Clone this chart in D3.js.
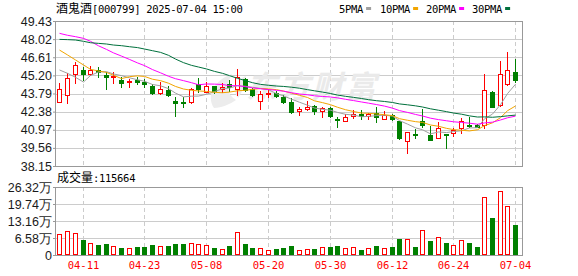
<!DOCTYPE html>
<html><head><meta charset="utf-8">
<script src="https://cdn.jsdelivr.net/npm/d3@7"></script>
<style>html,body{margin:0;padding:0;background:#fff;}svg{display:block}</style>
</head><body><svg id="c" width="578" height="276"></svg>
<script>
const dates = ["04-08","04-09","04-10","04-11","04-14","04-15","04-16","04-17","04-18","04-21","04-22","04-23","04-24","04-25","04-28","04-29","04-30","05-06","05-07","05-08","05-09","05-12","05-13","05-14","05-15","05-16","05-19","05-20","05-21","05-22","05-23","05-26","05-27","05-28","05-29","05-30","06-03","06-04","06-05","06-06","06-09","06-10","06-11","06-12","06-13","06-16","06-17","06-18","06-19","06-20","06-23","06-24","06-25","06-26","06-27","06-30","07-01","07-02","07-03","07-04"];
const open  = [43.10,43.65,45.28,45.62,45.28,45.62,45.23,45.05,44.87,44.66,44.81,44.69,44.37,43.86,44.06,43.23,43.14,43.16,44.50,43.93,44.37,44.14,44.50,44.11,44.89,44.14,43.24,43.75,43.80,43.49,43.16,42.46,42.56,42.82,42.46,42.64,41.78,41.68,42.07,42.17,42.07,42.25,41.83,42.12,41.68,40.12,40.64,41.63,40.56,40.30,40.66,40.74,41.08,41.37,41.31,41.34,43.91,42.87,44.50,45.46];
const high  = [44.63,45.36,46.27,45.88,45.93,45.83,45.49,45.44,45.05,44.92,45.10,44.89,44.53,44.69,44.37,43.49,43.49,44.19,44.97,44.66,44.37,44.58,44.84,45.70,45.02,44.24,43.96,44.11,44.01,43.67,43.42,42.72,43.21,42.90,42.77,42.72,41.99,42.17,42.51,42.51,42.30,42.72,42.46,42.17,41.68,40.82,41.01,42.56,41.26,41.55,40.66,41.08,41.86,41.99,41.42,45.31,43.96,46.32,47.04,46.45];
const low   = [43.10,43.08,44.58,44.84,45.20,45.05,44.17,44.63,44.32,44.32,44.53,44.32,43.75,43.75,43.57,42.07,42.72,43.08,43.93,43.90,43.85,43.93,44.01,43.67,44.01,43.60,42.61,43.49,43.49,43.03,42.30,42.12,42.51,42.20,41.99,41.99,41.16,41.65,41.91,41.81,41.78,41.60,41.78,41.73,40.28,39.19,40.36,41.21,40.20,40.30,39.58,40.51,40.74,41.21,41.16,41.08,42.72,42.82,44.45,44.71];
const close = [44.11,44.97,45.98,45.28,45.62,45.46,45.10,45.12,44.63,44.76,44.71,44.50,43.86,44.11,43.65,43.05,43.02,44.11,44.16,44.35,43.98,44.33,44.30,45.10,44.06,43.65,43.75,43.86,43.60,43.16,42.38,42.56,42.72,42.46,42.69,42.04,41.70,41.94,42.17,42.07,42.17,41.99,42.12,41.78,40.33,40.82,40.54,41.37,40.20,41.08,40.58,40.93,41.68,41.26,41.21,44.04,42.77,45.31,45.59,44.84];
const volume = [81300,92900,85200,58100,45200,38700,42600,34800,27100,27100,32300,32300,38700,34800,36100,42600,42600,45200,42600,38700,27100,21900,36100,87700,41300,27100,25800,18100,23200,27100,34800,18100,21900,23200,29700,31000,34800,25800,29700,19400,25800,34800,25800,31000,61900,60600,31000,95500,54200,69700,46400,37400,56800,46400,31000,223200,143200,246400,188400,115664];
const ma5  = [45.62,45.36,45.05,44.68,45.19,45.46,45.49,45.31,45.18,45.01,44.86,44.74,44.49,44.39,44.17,43.82,43.53,43.58,43.59,43.73,43.93,44.17,44.21,44.40,44.35,44.28,44.18,44.08,43.78,43.60,43.35,43.11,42.88,42.66,42.56,42.49,42.32,42.17,42.11,41.98,42.01,42.07,42.10,42.03,41.68,41.41,41.12,40.97,40.65,40.80,40.75,40.83,40.89,41.11,41.13,41.82,42.19,42.92,43.78,44.51];
const ma10 = [47.17,46.79,46.40,46.01,45.67,45.54,45.43,45.21,44.95,45.10,45.16,45.12,44.90,44.79,44.59,44.34,44.14,44.04,43.99,43.95,43.88,43.85,43.90,44.00,44.04,44.11,44.18,44.15,44.09,43.98,43.82,43.65,43.48,43.22,43.08,42.92,42.72,42.53,42.39,42.27,42.25,42.20,42.14,42.07,41.83,41.71,41.60,41.54,41.34,41.24,41.08,40.98,40.93,40.88,40.97,41.29,41.51,41.91,42.45,42.82];
const ma20 = [48.47,48.32,48.21,48.08,47.85,47.50,47.22,46.95,46.70,46.44,46.17,45.96,45.65,45.40,45.13,44.94,44.79,44.63,44.47,44.53,44.52,44.49,44.40,44.40,44.32,44.23,44.16,44.10,44.04,43.97,43.85,43.75,43.69,43.61,43.56,43.52,43.45,43.34,43.24,43.13,43.04,42.93,42.81,42.65,42.46,42.32,42.16,42.04,41.87,41.76,41.67,41.59,41.54,41.48,41.40,41.50,41.56,41.73,41.90,42.03];
const ma30 = [48.00,47.98,47.95,47.85,47.74,47.69,47.64,47.56,47.51,47.43,47.36,47.25,47.12,46.99,46.76,46.47,46.19,45.98,45.85,45.70,45.51,45.36,45.18,44.97,44.79,44.63,44.50,44.43,44.37,44.34,44.28,44.20,44.09,44.00,43.90,43.79,43.67,43.57,43.49,43.40,43.31,43.23,43.17,43.09,42.98,42.91,42.83,42.74,42.60,42.49,42.38,42.27,42.18,42.05,41.96,41.97,41.94,41.99,42.05,42.11];
const priceTicks = [38.15,39.56,40.97,42.38,43.79,45.20,46.61,48.02,49.43];
const volTicks = [0,65800,131600,197400,263200];
const volTickLabels = ["0","6.58万","13.16万","19.74万","26.32万"];
const dateTicks = ["04-11","04-23","05-08","05-20","05-30","06-12","06-24","07-04"];
const maNames = ["5PMA","10PMA","20PMA","30PMA"];
const stockName = "酒鬼酒";
const stockInfo = "[000799] 2025-07-04 15:00";
const volLabel = "成交量";
const volLast = "115664";

const RED = "#ff0000", GREEN = "#008000";
const maColors = ["#a0a0a0","#f2a500","#ff00ff","#00703c"];
const L = 56, R = 522, PT = 21, PB = 166, VT = 187, VB = 255;

const svg = d3.select("#c");
const x = d3.scaleBand().domain(dates).range([L, L + dates.length * 7.68]).paddingInner(0.35).paddingOuter(0);
const step = x.step();
const cx = d => Math.floor(x(d) + step / 2);
const y = d3.scaleLinear().domain([38.15, 49.43]).range([PB, PT]);
const yv = d3.scaleLinear().domain([0, 263200]).range([VB, VT]);
const gridC = "#cccccc", frameC = "#999999";
const labelFont = "'Liberation Sans', Arial, sans-serif";
const monoFont = "'DejaVu Sans Mono', monospace";
const cjkFont = "'Noto Sans CJK SC', sans-serif";

// horizontal grid
svg.append("g").selectAll("line").data(priceTicks.slice(1, -1)).join("line")
  .attr("x1", L).attr("x2", R).attr("y1", d => Math.round(y(d)) + 0.5).attr("y2", d => Math.round(y(d)) + 0.5)
  .attr("stroke", gridC).attr("stroke-width", 1);
svg.append("g").selectAll("line").data(volTicks.slice(1, -1)).join("line")
  .attr("x1", L).attr("x2", R).attr("y1", d => Math.round(yv(d)) + 0.5).attr("y2", d => Math.round(yv(d)) + 0.5)
  .attr("stroke", gridC).attr("stroke-width", 1);
// vertical dashed grid
[[PT, PB], [VT, VB]].forEach(([a, b]) => {
  svg.append("g").selectAll("line").data(dateTicks).join("line")
    .attr("x1", d => cx(d) + 0.5).attr("x2", d => cx(d) + 0.5).attr("y1", a).attr("y2", b)
    .attr("stroke", gridC).attr("stroke-dasharray", "4,3");
});

// watermark
const wm = svg.append("g").attr("opacity", 1);
wm.append("path").attr("d", "M214,108 C206,96 214,80 232,74 C226,84 226,94 236,100 C230,104 222,108 214,108 Z M238,98 C232,90 236,80 246,76 C244,84 244,90 238,98 Z").attr("fill", "#ececec");
wm.append("text").attr("x", 246).attr("y", 98).text("东方财富")
  .attr("font-family", cjkFont).attr("font-size", 31).attr("font-weight", "bold").attr("font-style", "italic")
  .attr("fill", "#eaeaea").attr("letter-spacing", 2);

// frames
svg.append("rect").attr("x", L - 0.5).attr("y", PT + 0.5).attr("width", R - L + 1).attr("height", PB - PT)
  .attr("fill", "none").attr("stroke", frameC);
svg.append("rect").attr("x", L - 0.5).attr("y", VT + 0.5).attr("width", R - L + 1).attr("height", VB - VT)
  .attr("fill", "none").attr("stroke", frameC);

// candles
const cg = svg.append("g");
dates.forEach((d, i) => {
  const o = open[i], c = close[i], up = c >= o;
  const col = up ? RED : GREEN;
  const k = cx(d);
  const yh = Math.round(y(high[i])), yl = Math.round(y(low[i]));
  const yt = Math.round(y(Math.max(o, c))), yb = Math.round(y(Math.min(o, c)));
  cg.append("line").attr("x1", k + 0.5).attr("x2", k + 0.5).attr("y1", yh).attr("y2", yl + 1).attr("stroke", col);
  if (up) {
    if (yb - yt < 1) {
      cg.append("rect").attr("x", k - 2).attr("y", yt).attr("width", 5).attr("height", 1).attr("fill", col);
    } else {
      cg.append("rect").attr("x", k - 1.5).attr("y", yt + 0.5).attr("width", 4).attr("height", yb - yt)
        .attr("fill", "#fff").attr("stroke", col);
    }
  } else {
    cg.append("rect").attr("x", k - 2).attr("y", yt).attr("width", 5).attr("height", Math.max(1, yb - yt + 1)).attr("fill", col);
  }
});

// moving averages
const mas = [ma5, ma10, ma20, ma30];
const line = d3.line().x((v, i) => cx(dates[i]) + 0.5).y(v => y(v));
mas.forEach((m, j) => {
  svg.append("path").attr("d", line(m)).attr("fill", "none").attr("stroke", maColors[j]).attr("stroke-width", 1);
});

// volume bars
const vg = svg.append("g");
dates.forEach((d, i) => {
  const prev = i > 0 ? close[i - 1] : open[i];
  const up = close[i] >= prev;
  const k = cx(d);
  const t = Math.round(yv(volume[i]));
  if (up) {
    vg.append("rect").attr("x", k - 1.5).attr("y", t + 0.5).attr("width", 4).attr("height", VB - t - 1)
      .attr("fill", "#fff").attr("stroke", RED);
  } else {
    vg.append("rect").attr("x", k - 2).attr("y", t).attr("width", 5).attr("height", VB - t).attr("fill", GREEN);
  }
});

// y axes
const ya = svg.append("g").attr("transform", `translate(${L},0)`)
  .call(d3.axisLeft(y).tickValues(priceTicks).tickFormat(d3.format(".2f")).tickSize(3).tickPadding(1));
const yva = svg.append("g").attr("transform", `translate(${L},0)`)
  .call(d3.axisLeft(yv).tickValues(volTicks).tickFormat((d, i) => volTickLabels[i]).tickSize(3).tickPadding(1));
[ya, yva].forEach(g => {
  g.select(".domain").remove();
  g.selectAll(".tick line").attr("stroke", frameC);
  g.selectAll(".tick text").attr("fill", "#1a1a1a").attr("font-family", labelFont).attr("font-size", 12.5);
});

// x axis labels
const xa = svg.append("g").attr("transform", `translate(0,${VB})`)
  .call(d3.axisBottom(x).tickValues(dateTicks).tickSize(0).tickPadding(7));
xa.select(".domain").remove();
xa.selectAll(".tick").attr("transform", d => `translate(${cx(d) + 0.5},0)`);
xa.selectAll(".tick text").attr("fill", RED).attr("font-family", monoFont).attr("font-size", 10.5);

// title
const tt = svg.append("text").attr("x", L).attr("y", 13).attr("fill", "#000");
tt.append("tspan").attr("font-family", cjkFont).attr("font-size", 12).text(stockName);
tt.append("tspan").attr("font-family", monoFont).attr("font-size", 10.5).attr("letter-spacing", -0.3).attr("xml:space", "preserve").text(stockInfo);

// legend
const lg = svg.append("g");
const legX = [339, 380, 426, 472];
maNames.forEach((n, j) => {
  const tx = lg.append("text").attr("x", legX[j]).attr("y", 13).text(n)
    .attr("font-family", monoFont).attr("font-size", 10.5).attr("letter-spacing", -0.3).attr("fill", "#000");
  const w = tx.node().getComputedTextLength();
  lg.append("rect").attr("x", legX[j] + w + 3).attr("y", 7).attr("width", 5).attr("height", 3).attr("fill", maColors[j]);
});

// volume title
const vt = svg.append("text").attr("x", L + 1).attr("y", 182).attr("fill", "#000");
vt.append("tspan").attr("font-family", cjkFont).attr("font-size", 12).text(volLabel);
vt.append("tspan").attr("font-family", monoFont).attr("font-size", 10.5).attr("letter-spacing", -0.3).text(":" + volLast);
</script></body></html>
